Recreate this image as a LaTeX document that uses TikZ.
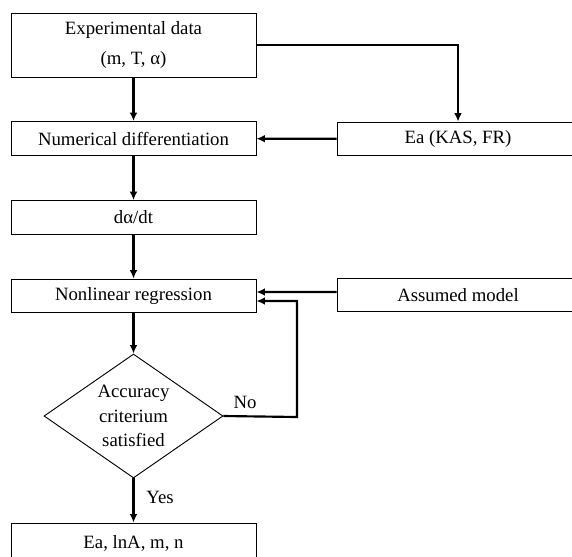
\documentclass[tikz,border=0pt]{standalone}
\usepackage{fontspec}
\setmainfont{Liberation Serif}
\usetikzlibrary{shapes.geometric,arrows.meta}
\tikzset{
  box/.style={draw, line width=0.6pt, minimum width=159.25pt, minimum height=22pt, inner sep=0pt, align=center},
  sidebox/.style={box, minimum width=157.3pt},
  decision/.style={draw, diamond, line width=0.6pt, aspect=1.44, minimum width=116.35pt, minimum height=80.6pt, inner sep=0pt, align=center},
  arr/.style={line width=1.4pt, -{Latex[length=5.5pt,width=5pt]}}
}
\begin{document}
\begin{tikzpicture}[x=0.65pt, y=0.65pt, font=\fontsize{12.2}{16}\selectfont]
    \useasboundingbox (0,0) rectangle (572,-556);
    \clip (0,0) rectangle (572,-556);

    % Main column
    \node[box, minimum height=41.6pt] (data) at (133.5,-45) {Experimental data\\[3pt](m, T, α)};
    \node[box] (numdiff) at (133.5,-138.5) {Numerical differentiation};
    \node[box] (dadt) at (133.5,-217.5) {dα/dt};
    \node[box] (nlreg) at (133.5,-296) {Nonlinear regression};
    \node[decision] (acc) at (133.5,-416) {Accuracy\\criterium\\satisfied};
    \node[box, minimum height=26pt] (result) at (133.5,-543) {Ea, lnA, m, n};

    % Side inputs
    \node[sidebox] (ea) at (458,-139) {Ea (KAS, FR)};
    \node[sidebox] (model) at (458,-295) {Assumed model};

    % Flow
    \draw[arr] (data) -- (numdiff);
    \draw[arr] (data.east) -| (ea.north);
    \draw[arr] (ea) -- (numdiff);
    \draw[arr] (numdiff) -- (dadt);
    \draw[arr] (dadt) -- (nlreg);
    \draw[arr] ([yshift=1.95pt]model.west) -- ([yshift=2.6pt]nlreg.east);
    \draw[arr] (nlreg) -- (acc.north);

    % Loop back and exit
    \coordinate (bend) at (297,-417);
    \draw[arr] (acc.east) -- (bend) |- ([yshift=-3.25pt]nlreg.east);
    \draw[arr] (acc.south) -- (result);
    \node (no) at (245,-402) {No};
    \node (yes) at (160,-497) {Yes};

\end{tikzpicture}
\end{document}
